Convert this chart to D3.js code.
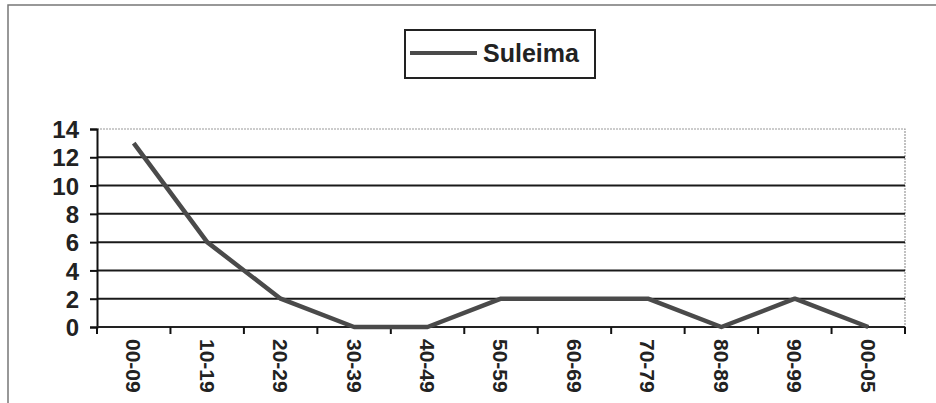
<!DOCTYPE html>
<html>
<head>
<meta charset="utf-8">
<script src="https://cdn.jsdelivr.net/npm/d3@7"></script>
<style>
  body { margin: 0; background: #fff; }
  svg { display: block; font-family: "Liberation Sans", Arial, sans-serif; }
</style>
</head>
<body>
<svg id="chart" width="936" height="403"></svg>
<script>
const categories = ["00-09", "10-19", "20-29", "30-39", "40-49", "50-59", "60-69", "70-79", "80-89", "90-99", "00-05"];
const suleima = [13, 6, 2, 0, 0, 2, 2, 2, 0, 2, 0];
const yTicks = [0, 2, 4, 6, 8, 10, 12, 14];
const seriesName = "Suleima";

const svg = d3.select("#chart");
const margin = { top: 129, right: 31, bottom: 76, left: 97 };
const width = 936 - margin.left - margin.right;
const height = 403 - margin.top - margin.bottom;

// outer frame (only left/top visible in scan)
svg.append("path")
  .attr("d", "M8,403V5H936")
  .attr("fill", "none")
  .attr("stroke", "#777")
  .attr("stroke-width", 1.5);

const g = svg.append("g")
  .attr("transform", "translate(" + margin.left + "," + margin.top + ")");

const x = d3.scaleBand().domain(categories).range([0, width]);
const y = d3.scaleLinear().domain([0, 14]).range([height, 0]);

// plot area border (top + right, light dotted)
g.append("path")
  .attr("d", "M0,0H" + width + "V" + height)
  .attr("fill", "none")
  .attr("stroke", "#999")
  .attr("stroke-width", 1.2)
  .attr("stroke-dasharray", "2,1");

// gridlines
g.selectAll(".grid")
  .data(yTicks.filter(d => d > 0 && d < 14))
  .enter()
  .append("line")
  .attr("x1", 0)
  .attr("x2", width)
  .attr("y1", d => y(d))
  .attr("y2", d => y(d))
  .attr("stroke", "#1a1a1a")
  .attr("stroke-width", 2);

// y axis
const yAxis = g.append("g")
  .call(d3.axisLeft(y).tickValues(yTicks).tickSize(7).tickPadding(11));
yAxis.select(".domain").attr("stroke", "#111").attr("stroke-width", 2);
yAxis.selectAll(".tick line").attr("stroke", "#111").attr("stroke-width", 2);
yAxis.selectAll(".tick text")
  .attr("font-size", 24)
  .attr("font-weight", "bold")
  .attr("fill", "#222")
  .attr("dy", "0.36em");

// x axis: ticks between categories
const xAxis = g.append("g").attr("transform", "translate(0," + height + ")");
xAxis.append("line")
  .attr("x1", 0).attr("x2", width)
  .attr("stroke", "#222").attr("stroke-width", 2);
const edges = categories.map(c => x(c)).concat([width]);
xAxis.selectAll(".xtick")
  .data(edges)
  .enter()
  .append("line")
  .attr("x1", d => d).attr("x2", d => d)
  .attr("y1", 0).attr("y2", 7)
  .attr("stroke", "#111").attr("stroke-width", 2);
xAxis.selectAll(".xlabel")
  .data(categories)
  .enter()
  .append("text")
  .attr("transform", d => "translate(" + (x(d) + x.bandwidth() / 2) + ",12) rotate(90)")
  .attr("dy", "0.36em")
  .attr("font-size", 21)
  .attr("font-weight", "bold")
  .attr("fill", "#222")
  .text(d => d);

// series line
const line = d3.line()
  .x((d, i) => x(categories[i]) + x.bandwidth() / 2)
  .y(d => y(d));
g.append("path")
  .datum(suleima)
  .attr("fill", "none")
  .attr("stroke", "#4a4a4a")
  .attr("stroke-width", 4.5)
  .attr("stroke-linejoin", "round")
  .attr("d", line);

// legend
const legend = svg.append("g").attr("transform", "translate(405,30)");
legend.append("rect")
  .attr("width", 190).attr("height", 48)
  .attr("fill", "#fff")
  .attr("stroke", "#222").attr("stroke-width", 2);
legend.append("line")
  .attr("x1", 5).attr("x2", 72)
  .attr("y1", 23).attr("y2", 23)
  .attr("stroke", "#4a4a4a").attr("stroke-width", 4);
legend.append("text")
  .attr("x", 78).attr("y", 32)
  .attr("font-size", 25)
  .attr("font-weight", "bold")
  .attr("fill", "#222")
  .text(seriesName);
</script>
</body>
</html>
